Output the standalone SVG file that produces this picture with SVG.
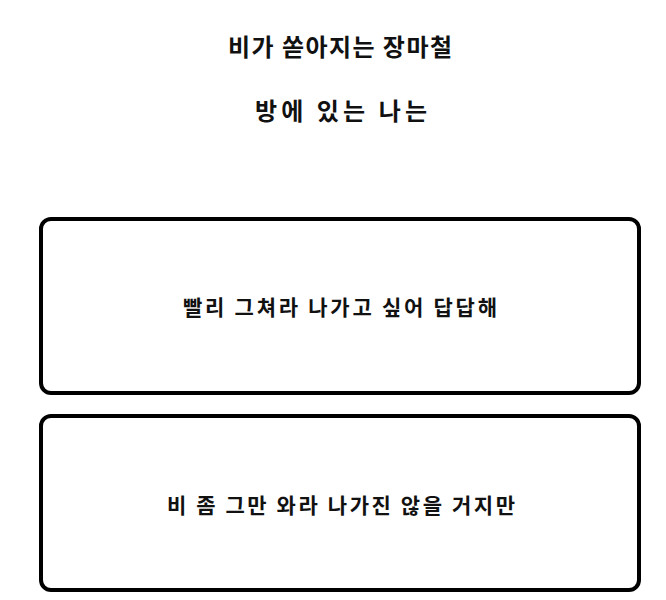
<svg xmlns="http://www.w3.org/2000/svg" width="666" height="600" viewBox="0 0 666 600">
<style>
.t{font-family:"Noto Sans CJK KR","Noto Sans",sans-serif;font-weight:bold;fill:#111;text-anchor:middle}
.b{fill:#fff;stroke:#000;stroke-width:4}
</style>
<rect width="666" height="600" fill="#fff"/>
<g id="title"><text class="t" x="340" y="56" font-size="24" textLength="224" lengthAdjust="spacing">비가 쏟아지는 장마철</text></g>
<g id="subtitle"><text class="t" x="341" y="120" font-size="24" textLength="172" lengthAdjust="spacing">방에 있는 나는</text></g>
<g id="box1"><rect class="b" x="41" y="219" width="598" height="174" rx="10"/><text class="t" x="340" y="315" font-size="21" textLength="314" lengthAdjust="spacing">빨리 그쳐라 나가고 싶어 답답해</text></g>
<g id="box2"><rect class="b" x="41" y="416" width="598" height="174" rx="10"/><text class="t" x="341" y="513" font-size="21" textLength="348" lengthAdjust="spacing">비 좀 그만 와라 나가진 않을 거지만</text></g>
<g id="connectors"></g>
</svg>
